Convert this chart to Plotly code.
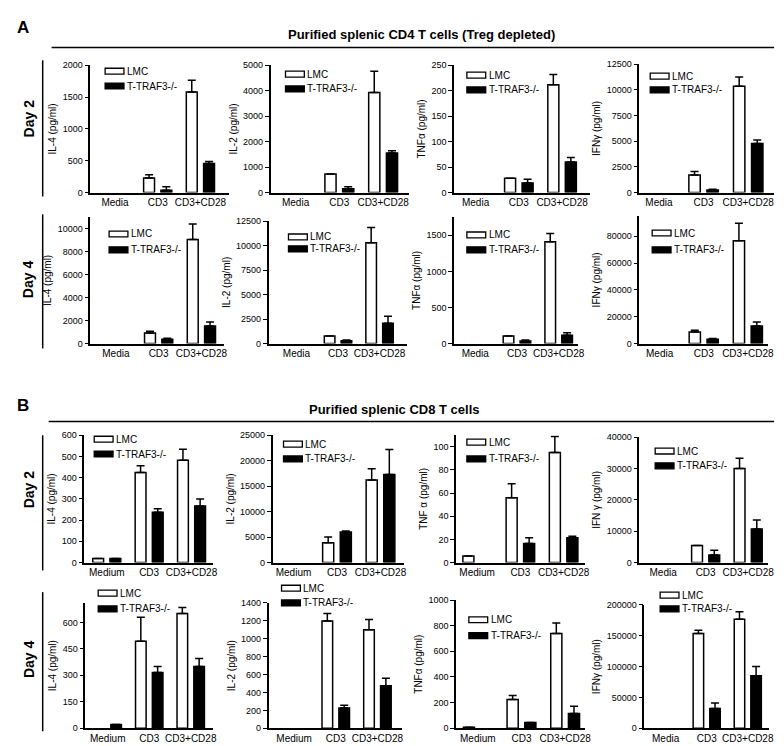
import plotly.graph_objects as go

W, H = 784, 746
FONT = "Liberation Sans, Arial, sans-serif"

series_names = ["LMC", "T-TRAF3-/-"]
cats_media = ["Media", "CD3", "CD3+CD28"]
cats_medium = ["Medium", "CD3", "CD3+CD28"]

# ---------------- Panel A: CD4 (Treg depleted), Day 2 ----------------
a_d2_il4_lmc = [0, 230, 1580]
a_d2_il4_lmc_err = [None, 50, 185]
a_d2_il4_ko = [0, 35, 455]
a_d2_il4_ko_err = [None, 55, 35]

a_d2_il2_lmc = [0, 725, 3935]
a_d2_il2_lmc_err = [None, None, 835]
a_d2_il2_ko = [0, 150, 1550]
a_d2_il2_ko_err = [None, 75, 90]

a_d2_tnf_lmc = [0, 28, 212]
a_d2_tnf_lmc_err = [None, None, 20]
a_d2_tnf_ko = [0, 19, 60]
a_d2_tnf_ko_err = [None, 7, 9]

a_d2_ifn_lmc = [0, 1720, 10350]
a_d2_ifn_lmc_err = [None, 325, 910]
a_d2_ifn_ko = [0, 260, 4770]
a_d2_ifn_ko_err = [None, 65, 360]

# ---------------- Panel A: CD4 (Treg depleted), Day 4 ----------------
a_d4_il4_lmc = [0, 920, 9050]
a_d4_il4_lmc_err = [None, 145, 1350]
a_d4_il4_ko = [0, 375, 1530]
a_d4_il4_ko_err = [None, 85, 340]

a_d4_il2_lmc = [0, 770, 10300]
a_d4_il2_lmc_err = [None, None, 1550]
a_d4_il2_ko = [0, 270, 2080]
a_d4_il2_ko_err = [None, 100, 710]

a_d4_tnf_lmc = [0, 105, 1410]
a_d4_tnf_lmc_err = [None, None, 113]
a_d4_tnf_ko = [0, 36, 114]
a_d4_tnf_ko_err = [None, 14, 36]

a_d4_ifn_lmc = [0, 8600, 76700]
a_d4_ifn_lmc_err = [None, 1230, 13000]
a_d4_ifn_ko = [0, 3200, 13000]
a_d4_ifn_ko_err = [None, 500, 3000]

# ---------------- Panel B: CD8, Day 2 ----------------
b_d2_il4_lmc = [19, 425, 482]
b_d2_il4_lmc_err = [None, 31, 52]
b_d2_il4_ko = [19, 237, 266]
b_d2_il4_ko_err = [None, 16, 34]

b_d2_il2_lmc = [0, 3900, 16200]
b_d2_il2_lmc_err = [None, 1100, 2200]
b_d2_il2_ko = [0, 6000, 17300]
b_d2_il2_ko_err = [None, 170, 4900]

b_d2_tnf_lmc = [5.7, 56, 95]
b_d2_tnf_lmc_err = [None, 12, 14]
b_d2_tnf_ko = [0, 16.5, 21.5]
b_d2_tnf_ko_err = [None, 5, 1.3]

b_d2_ifn_lmc = [0, 5450, 30000]
b_d2_ifn_lmc_err = [None, None, 3300]
b_d2_ifn_ko = [0, 2400, 10700]
b_d2_ifn_ko_err = [None, 1500, 2900]

# ---------------- Panel B: CD8, Day 4 ----------------
b_d4_il4_lmc = [0, 493, 651]
b_d4_il4_lmc_err = [None, 136, 34]
b_d4_il4_ko = [22, 316, 350]
b_d4_il4_ko_err = [None, 34, 45]

b_d4_il2_lmc = [0, 1200, 1100]
b_d4_il2_lmc_err = [None, 83, 116]
b_d4_il2_ko = [0, 227, 476]
b_d4_il2_ko_err = [None, 29, 84]

b_d4_tnf_lmc = [8, 225, 738]
b_d4_tnf_lmc_err = [None, 31, 82]
b_d4_tnf_ko = [0, 46, 115]
b_d4_tnf_ko_err = [None, None, 57]

b_d4_ifn_lmc = [0, 153600, 177000]
b_d4_ifn_lmc_err = [None, 5400, 12000]
b_d4_ifn_ko = [0, 32000, 85300]
b_d4_ifn_ko_err = [None, 9000, 14700]

# ---------------- subplot specs (data refs + layout in px) ----------------
TNF_T = "TNFα (pg/ml)"
IFN_T = "IFNγ (pg/ml)"
specs = [
    # Panel A, Day 2
    dict(c=cats_media, l=a_d2_il4_lmc, le=a_d2_il4_lmc_err, k=a_d2_il4_ko, ke=a_d2_il4_ko_err,
         yt="IL-4 (pg/ml)", yr=[0, 2000], dt=500, xr=[-0.58, 2.67], box=(83, 223, 53, 182), leg=(98, 59, 74)),
    dict(c=cats_media, l=a_d2_il2_lmc, le=a_d2_il2_lmc_err, k=a_d2_il2_ko, ke=a_d2_il2_ko_err,
         yt="IL-2 (pg/ml)", yr=[0, 5000], dt=1000, xr=[-0.57, 2.6], box=(265, 405, 53, 182), leg=(280, 62, 77)),
    dict(c=cats_media, l=a_d2_tnf_lmc, le=a_d2_tnf_lmc_err, k=a_d2_tnf_ko, ke=a_d2_tnf_ko_err,
         yt=TNF_T, yr=[0, 250], dt=50, xr=[-0.5, 2.64], box=(450, 587, 53, 182), leg=(463, 63, 78)),
    dict(c=cats_media, l=a_d2_ifn_lmc, le=a_d2_ifn_lmc_err, k=a_d2_ifn_ko, ke=a_d2_ifn_ko_err,
         yt=IFN_T, yr=[0, 12500], dt=2500, xr=[-0.44, 2.58], box=(637, 773, 52, 182), leg=(648, 64, 78)),
    # Panel A, Day 4
    dict(c=cats_media, l=a_d4_il4_lmc, le=a_d4_il4_lmc_err, k=a_d4_il4_ko, ke=a_d4_il4_ko_err,
         yt="IL-4 (pg/ml)", yr=[0, 11000], dt=2000, xr=[-0.6, 2.53], box=(83, 218, 207, 335), leg=(102, 224, 240)),
    dict(c=cats_media, l=a_d4_il2_lmc, le=a_d4_il2_lmc_err, k=a_d4_il2_ko, ke=a_d4_il2_ko_err,
         yt="IL-2 (pg/ml)", yr=[0, 12500], dt=2500, xr=[-0.67, 2.67], box=(263, 403, 211, 335), leg=(283, 227, 239)),
    dict(c=cats_media, l=a_d4_tnf_lmc, le=a_d4_tnf_lmc_err, k=a_d4_tnf_ko, ke=a_d4_tnf_ko_err,
         yt=TNF_T, yr=[0, 1750], dt=500, xr=[-0.51, 2.46], box=(450, 575, 207, 335), leg=(463, 225, 240)),
    dict(c=cats_media, l=a_d4_ifn_lmc, le=a_d4_ifn_lmc_err, k=a_d4_ifn_ko, ke=a_d4_ifn_ko_err,
         yt=IFN_T, yr=[0, 95000], dt=20000, xr=[-0.46, 2.46], box=(637, 767, 206, 335), leg=(650, 223, 240)),
    # Panel B, Day 2
    dict(c=cats_medium, l=b_d2_il4_lmc, le=b_d2_il4_lmc_err, k=b_d2_il4_ko, ke=b_d2_il4_ko_err,
         yt="IL-4 (pg/ml)", yr=[0, 600], dt=100, xr=[-0.53, 2.51], box=(77, 207, 428, 557), leg=(87, 432, 447)),
    dict(c=cats_medium, l=b_d2_il2_lmc, le=b_d2_il2_lmc_err, k=b_d2_il2_ko, ke=b_d2_il2_ko_err,
         yt="IL-2 (pg/ml)", yr=[0, 25000], dt=5000, xr=[-0.48, 2.55], box=(267, 400, 428, 557), leg=(278, 437, 452)),
    dict(c=cats_medium, l=b_d2_tnf_lmc, le=b_d2_tnf_lmc_err, k=b_d2_tnf_ko, ke=b_d2_tnf_ko_err,
         yt="TNF α (pg/ml)", yr=[0, 110], dt=20, xr=[-0.49, 2.49], box=(452, 582, 428, 557), leg=(463, 435, 452)),
    dict(c=cats_media, l=b_d2_ifn_lmc, le=b_d2_ifn_lmc_err, k=b_d2_ifn_ko, ke=b_d2_ifn_ko_err,
         yt="IFN γ (pg/ml)", yr=[0, 40000], dt=10000, xr=[-0.56, 2.47], box=(637, 767, 430, 557), leg=(653, 444, 459)),
    # Panel B, Day 4
    dict(c=cats_medium, l=b_d4_il4_lmc, le=b_d4_il4_lmc_err, k=b_d4_il4_ko, ke=b_d4_il4_ko_err,
         yt="IL-4 (pg/ml)", yr=[0, 710], dt=150, xr=[-0.54, 2.54], box=(78, 207, 598, 725), leg=(91, 588, 604)),
    dict(c=cats_medium, l=b_d4_il2_lmc, le=b_d4_il2_lmc_err, k=b_d4_il2_ko, ke=b_d4_il2_ko_err,
         yt="IL-2 (pg/ml)", yr=[0, 1400], dt=200, xr=[-0.61, 2.6], box=(263, 398, 598, 725), leg=(276, 583, 598)),
    dict(c=cats_medium, l=b_d4_tnf_lmc, le=b_d4_tnf_lmc_err, k=b_d4_tnf_ko, ke=b_d4_tnf_ko_err,
         yt=TNF_T, yr=[0, 1000], dt=200, xr=[-0.5, 2.45], box=(452, 582, 595, 725), leg=(465, 615, 631)),
    dict(c=cats_media, l=b_d4_ifn_lmc, le=b_d4_ifn_lmc_err, k=b_d4_ifn_ko, ke=b_d4_ifn_ko_err,
         yt=IFN_T, yr=[0, 200000], dt=50000, xr=[-0.52, 2.52], box=(642, 768, 600, 725), leg=(658, 590, 604)),
]

FILLS = ["white", "black"]


def px_x(v):
    return v / W


def px_y(v):
    return 1 - v / H


fig = go.Figure()
layout = dict(
    width=W, height=H,
    margin=dict(l=0, r=0, t=0, b=0),
    paper_bgcolor="white", plot_bgcolor="white",
    barmode="group", bargap=0.19, bargroupgap=0.37,
    font=dict(family=FONT, size=10, color="black"),
    showlegend=False,
)

shapes = []
annotations = []

for i, s in enumerate(specs):
    n = i + 1
    xa = "x" if n == 1 else f"x{n}"
    ya = "y" if n == 1 else f"y{n}"
    for name, vals, errs, fill in ((series_names[0], s["l"], s["le"], FILLS[0]),
                                   (series_names[1], s["k"], s["ke"], FILLS[1])):
        shown = [v if v else None for v in vals]  # undetected (0) -> no bar drawn
        fig.add_trace(go.Bar(
            x=s["c"], y=shown, name=name, xaxis=xa, yaxis=ya,
            marker=dict(color=fill, line=dict(color="black", width=1.5)),
            error_y=dict(type="data", symmetric=False, array=errs,
                         arrayminus=[0] * len(vals), color="black", thickness=1.5, width=4),
            hoverinfo="skip",
        ))
    x0, x1, yt, yb = s["box"]
    layout["xaxis" if n == 1 else f"xaxis{n}"] = dict(
        domain=[px_x(x0), px_x(x1)], anchor=ya, type="category", range=s["xr"],
        showline=True, linecolor="black", linewidth=1.5, ticks="", showgrid=False,
        zeroline=False, tickfont=dict(size=10, family=FONT), fixedrange=True,
    )
    layout["yaxis" if n == 1 else f"yaxis{n}"] = dict(
        domain=[px_y(yb), px_y(yt)], anchor=xa, range=s["yr"], tick0=0, dtick=s["dt"],
        showline=True, linecolor="black", linewidth=1.5, ticks="outside", ticklen=4,
        tickwidth=1.2, tickcolor="black", showgrid=False, zeroline=False,
        tickformat="d", tickfont=dict(size=9, family=FONT),
        title=dict(text=s["yt"], font=dict(size=10, family=FONT), standoff=4),
        fixedrange=True,
    )
    # per-subplot legend: wide swatch + label
    lx, r1, r2 = s["leg"]
    for name, fill, ry in ((series_names[0], FILLS[0], r1), (series_names[1], FILLS[1], r2)):
        shapes.append(dict(type="rect", xref="paper", yref="paper",
                           x0=px_x(lx), x1=px_x(lx + 19), y0=px_y(ry + 3), y1=px_y(ry - 3),
                           fillcolor=fill, line=dict(color="black", width=1.3)))
        annotations.append(dict(xref="paper", yref="paper", x=px_x(lx + 20), y=px_y(ry),
                                text=name, showarrow=False, xanchor="left", yanchor="middle",
                                font=dict(size=10, family=FONT, color="black")))

fig.update_layout(**layout)


def hline(x0, x1, y):
    shapes.append(dict(type="line", xref="paper", yref="paper",
                       x0=px_x(x0), x1=px_x(x1), y0=px_y(y), y1=px_y(y),
                       line=dict(color="black", width=1.5)))


def vline(x, y0, y1):
    shapes.append(dict(type="line", xref="paper", yref="paper",
                       x0=px_x(x), x1=px_x(x), y0=px_y(y0), y1=px_y(y1),
                       line=dict(color="black", width=1.5)))


def text(x, y, t, size, bold=False, angle=0, xanchor="center"):
    annotations.append(dict(xref="paper", yref="paper", x=px_x(x), y=px_y(y),
                            text=f"<b>{t}</b>" if bold else t, showarrow=False,
                            xanchor=xanchor, yanchor="middle", textangle=angle,
                            font=dict(size=size, family=FONT, color="black")))


hline(44, 773, 35)
hline(41, 773, 414)
vline(35, 48, 186)
vline(35, 204, 340)
vline(35, 428, 565)
vline(35, 587, 728)

text(7, 15, "A", 17, bold=True, xanchor="left")
text(7, 398, "B", 17, bold=True, xanchor="left")
text(417, 22, "Purified splenic CD4 T cells (Treg depleted)", 13, bold=True)
text(390, 402, "Purified splenic CD8 T cells", 13, bold=True)
text(21, 107, "Day 2", 14, bold=True, angle=-90)
text(21, 270, "Day 4", 14, bold=True, angle=-90)
text(21, 483, "Day 2", 14, bold=True, angle=-90)
text(21, 655, "Day 4", 14, bold=True, angle=-90)

fig.update_layout(shapes=shapes, annotations=annotations)

fig.write_html("out.html")
